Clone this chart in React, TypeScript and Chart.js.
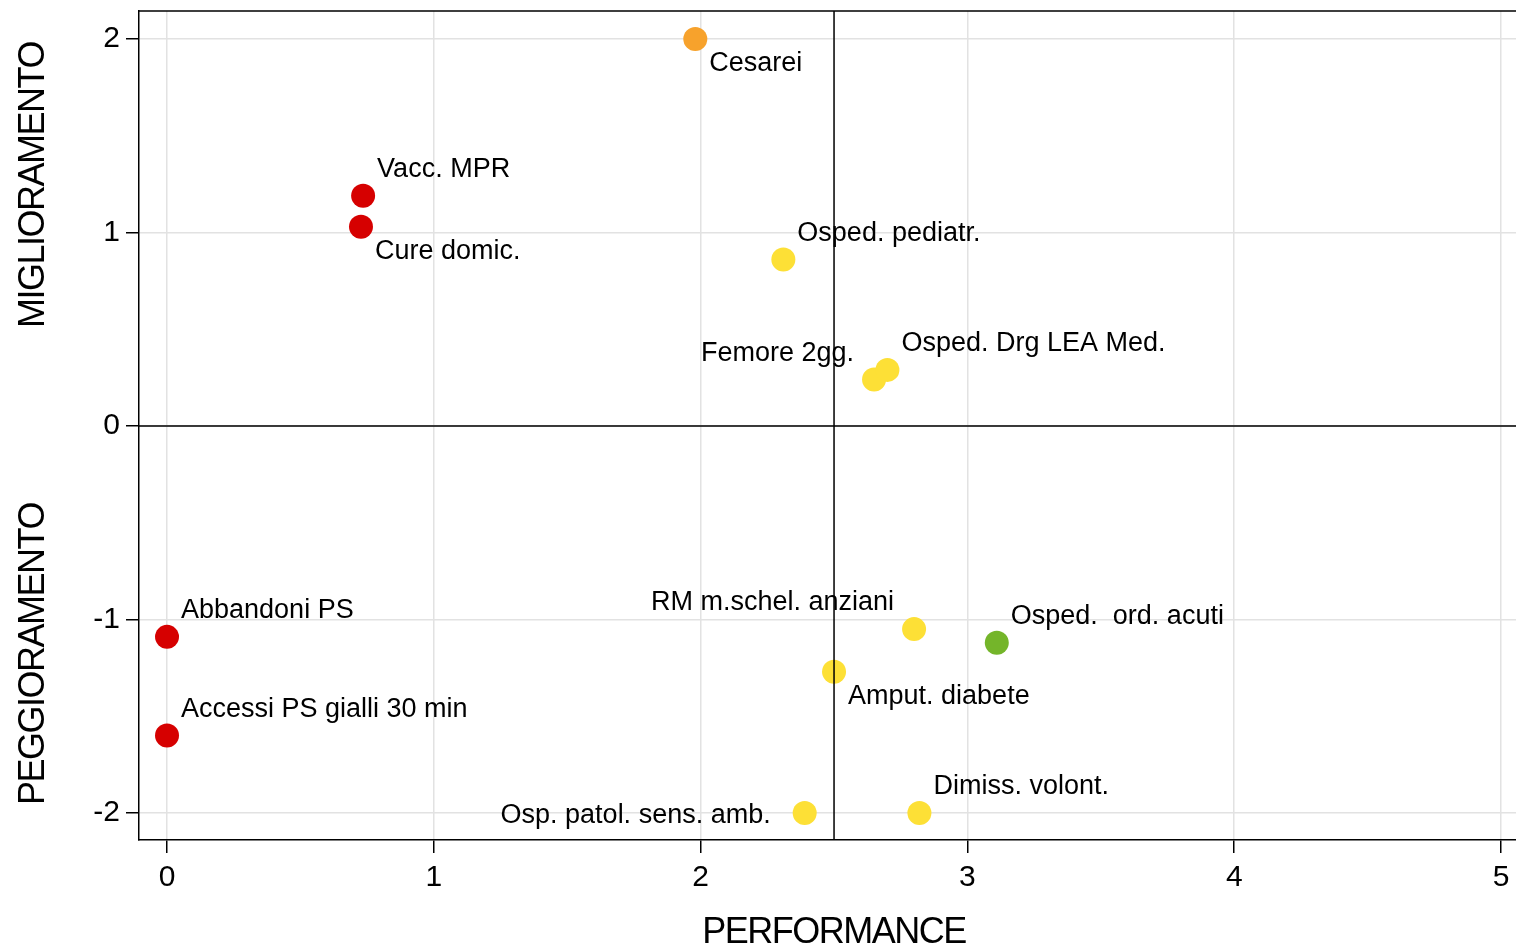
import React, { useEffect, useRef } from "react";
import { Chart, registerables } from "chart.js";

Chart.register(...registerables);

// ---- Data ----
const indicatorNames = [
  "Cesarei",
  "Vacc. MPR",
  "Cure domic.",
  "Osped. pediatr.",
  "Femore 2gg.",
  "Osped. Drg LEA Med.",
  "Abbandoni PS",
  "Accessi PS gialli 30 min",
  "RM m.schel. anziani",
  "Osped.  ord. acuti",
  "Amput. diabete",
  "Osp. patol. sens. amb.",
  "Dimiss. volont.",
];
const performanceValues = [1.98, 0.735, 0.727, 2.31, 2.65, 2.7, 0, 0, 2.8, 3.11, 2.5, 2.39, 2.82];
const trendValues = [2.0, 1.19, 1.03, 0.86, 0.24, 0.29, -1.09, -1.6, -1.05, -1.12, -1.27, -2.0, -2.0];
const colorClass = [
  "orange", "red", "red", "yellow", "yellow", "yellow",
  "red", "red", "yellow", "green", "yellow", "yellow", "yellow",
];
const labelSide = ["se", "ne", "se", "ne", "nw", "ne", "ne", "ne", "nw", "ne", "se", "w", "ne"];
const xTickValues = [0, 1, 2, 3, 4, 5];
const yTickValues = [-2, -1, 0, 1, 2];
const xReference = 2.5;
const yReference = 0;
const xTitle = "PERFORMANCE";
const yTitleTop = "MIGLIORAMENTO";
const yTitleBottom = "PEGGIORAMENTO";

// ---- Styles ----
const palette: Record<string, string> = {
  red: "#d60000",
  orange: "#f7a22c",
  yellow: "#fde036",
  green: "#74b52a",
};
const FONT = "'Liberation Sans', Arial, Helvetica, sans-serif";
const sideOffsets: Record<string, { dx: number; dy: number; align: CanvasTextAlign }> = {
  ne: { dx: 14, dy: -19, align: "left" },
  se: { dx: 14, dy: 32, align: "left" },
  nw: { dx: -20, dy: -19, align: "right" },
  w: { dx: -34, dy: 10, align: "right" },
};

const overlayPlugin = {
  id: "overlay",
  afterDatasetsDraw(chart: any) {
    const { ctx, chartArea, scales } = chart;
    const xs = scales.x;
    const ys = scales.y;
    ctx.save();
    ctx.fillStyle = "#000";
    ctx.font = `27px ${FONT}`;
    ctx.textBaseline = "alphabetic";
    indicatorNames.forEach((name, i) => {
      const px = xs.getPixelForValue(performanceValues[i]);
      const py = ys.getPixelForValue(trendValues[i]);
      const o = sideOffsets[labelSide[i]];
      ctx.textAlign = o.align;
      ctx.fillText(name, px + o.dx, py + o.dy);
    });
    ctx.strokeStyle = "#000";
    ctx.lineWidth = 1.5;
    const rx = xs.getPixelForValue(xReference);
    const ry = ys.getPixelForValue(yReference);
    ctx.beginPath();
    ctx.moveTo(rx, chartArea.top);
    ctx.lineTo(rx, chartArea.bottom);
    ctx.moveTo(chartArea.left, ry);
    ctx.lineTo(chartArea.right, ry);
    ctx.moveTo(chartArea.left, chartArea.top);
    ctx.lineTo(chartArea.right, chartArea.top);
    ctx.stroke();
    ctx.restore();
  },
  afterDraw(chart: any) {
    const { ctx } = chart;
    ctx.save();
    ctx.fillStyle = "#000";
    ctx.font = `36px ${FONT}`;
    (ctx as any).letterSpacing = "-1.5px";
    ctx.textAlign = "center";
    ctx.textBaseline = "alphabetic";
    ctx.fillText(xTitle, 834, 943);
    const drawV = (t: string, cy: number) => {
      ctx.save();
      ctx.translate(44, cy);
      ctx.rotate(-Math.PI / 2);
      ctx.fillText(t, 0, 0);
      ctx.restore();
    };
    drawV(yTitleTop, 185);
    drawV(yTitleBottom, 654);
    ctx.restore();
  },
};

const zeroPadding = (scale: any) => {
  scale.paddingTop = 0;
  scale.paddingBottom = 0;
  scale.paddingLeft = 0;
  scale.paddingRight = 0;
};

export default function App() {
  const canvasRef = useRef<HTMLCanvasElement | null>(null);

  useEffect(() => {
    if (!canvasRef.current) return;
    const points = performanceValues.map((x, i) => ({ x, y: trendValues[i] }));
    const chart = new Chart(canvasRef.current, {
      type: "scatter",
      data: {
        datasets: [
          {
            data: points,
            backgroundColor: colorClass.map((c) => palette[c]),
            borderWidth: 0,
            pointRadius: 12,
            pointHoverRadius: 12,
            clip: false,
          },
        ],
      },
      options: {
        animation: false,
        responsive: false,
        devicePixelRatio: 1,
        layout: { autoPadding: false, padding: { top: 11, right: 0, left: 0, bottom: 0 } },
        plugins: {
          legend: { display: false },
          tooltip: { enabled: false },
        },
        scales: {
          x: {
            type: "linear",
            min: -0.105,
            max: 5.056,
            afterBuildTicks: (scale: any) => {
              scale.ticks = xTickValues.map((v) => ({ value: v }));
            },
            afterFit: (scale: any) => {
              scale.height = 105;
              zeroPadding(scale);
            },
            ticks: {
              color: "#000",
              font: { family: FONT, size: 30 },
              padding: 7,
              maxRotation: 0,
              autoSkip: false,
            },
            grid: {
              color: "#e2e2e2",
              lineWidth: 1.5,
              tickColor: "#000",
              tickLength: 13,
              tickWidth: 1.5,
            },
            border: { display: true, color: "#000", width: 1.5 },
          },
          y: {
            type: "linear",
            min: -2.14,
            max: 2.145,
            afterBuildTicks: (scale: any) => {
              scale.ticks = yTickValues.map((v) => ({ value: v }));
            },
            afterFit: (scale: any) => {
              scale.width = 139;
              zeroPadding(scale);
            },
            ticks: {
              color: "#000",
              font: { family: FONT, size: 30 },
              padding: 6,
              autoSkip: false,
              callback: (v: any) => String(v),
            },
            grid: {
              color: "#e2e2e2",
              lineWidth: 1.5,
              tickColor: "#000",
              tickLength: 13,
              tickWidth: 1.5,
            },
            border: { display: true, color: "#000", width: 1.5 },
          },
        },
      },
      plugins: [overlayPlugin],
    });
    return () => chart.destroy();
  }, []);

  return (
    <div style={{ position: "absolute", left: 0, top: 0, width: 1516, height: 945, background: "#fff" }}>
      <canvas ref={canvasRef} width={1516} height={945} style={{ display: "block" }} />
    </div>
  );
}
